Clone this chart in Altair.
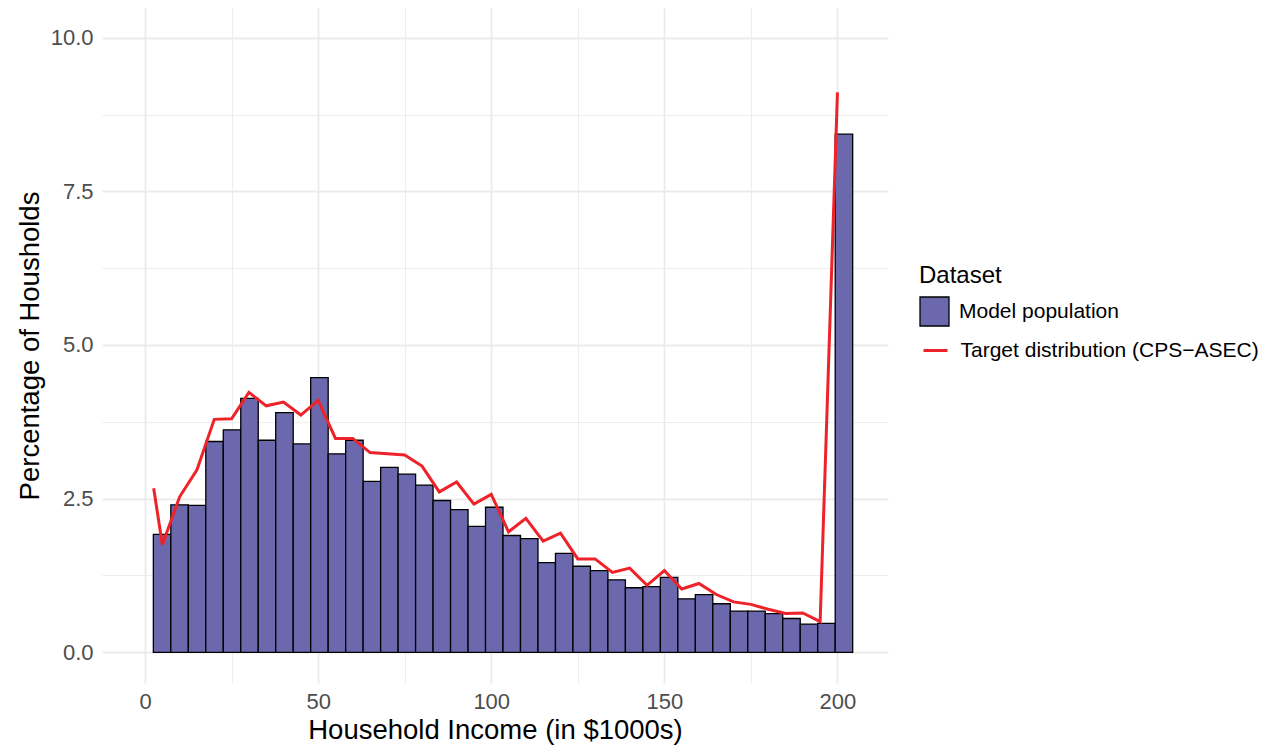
import altair as alt
import pandas as pd

# Histogram bins (in $1000s): left edges and right edges
bin_lo = [2.40, 7.45, 12.50, 17.55, 22.60, 27.65, 32.70, 37.75, 42.80, 47.85,
          52.90, 57.95, 63.00, 68.05, 73.10, 78.15, 83.20, 88.25, 93.30, 98.35,
          103.40, 108.45, 113.50, 118.55, 123.60, 128.65, 133.70, 138.75, 143.80, 148.85,
          153.90, 158.95, 164.00, 169.05, 174.10, 179.15, 184.20, 189.25, 194.30, 199.35]
bin_hi = [7.45, 12.50, 17.55, 22.60, 27.65, 32.70, 37.75, 42.80, 47.85, 52.90,
          57.95, 63.00, 68.05, 73.10, 78.15, 83.20, 88.25, 93.30, 98.35, 103.40,
          108.45, 113.50, 118.55, 123.60, 128.65, 133.70, 138.75, 143.80, 148.85, 153.90,
          158.95, 164.00, 169.05, 174.10, 179.15, 184.20, 189.25, 194.30, 199.35, 204.40]
model_pct = [1.92, 2.40, 2.39, 3.43, 3.62, 4.13, 3.45, 3.90, 3.39, 4.47,
             3.23, 3.45, 2.78, 3.01, 2.90, 2.72, 2.47, 2.32, 2.05, 2.36,
             1.90, 1.85, 1.46, 1.61, 1.40, 1.33, 1.18, 1.05, 1.07, 1.22,
             0.87, 0.94, 0.79, 0.67, 0.67, 0.63, 0.55, 0.46, 0.47, 8.43]

# Target distribution (CPS-ASEC)
target_income = [2.5, 5, 10, 15, 20, 25, 30, 35, 40, 45, 50, 55, 60, 65, 70, 75, 80,
                 85, 90, 95, 100, 105, 110, 115, 120, 125, 130, 135, 140, 145, 150,
                 155, 160, 165, 170, 175, 180, 185, 190, 195, 200]
target_pct = [2.67, 1.75, 2.53, 2.97, 3.79, 3.80, 4.23, 4.01, 4.07, 3.86, 4.10,
              3.48, 3.48, 3.25, 3.23, 3.21, 3.03, 2.61, 2.77, 2.41, 2.57,
              1.96, 2.18, 1.81, 1.94, 1.52, 1.52, 1.30, 1.37, 1.09, 1.33,
              1.03, 1.12, 0.94, 0.82, 0.78, 0.70, 0.63, 0.64, 0.50, 9.11]

x_ticks = [0, 25, 50, 75, 100, 125, 150, 175, 200]
y_ticks = [0, 1.25, 2.5, 3.75, 5, 6.25, 7.5, 8.75, 10]

model_label = "Model population"
target_label = "Target distribution (CPS\u2212ASEC)"

bars_df = pd.DataFrame({"lo": bin_lo, "hi": bin_hi, "pct": model_pct,
                        "base": [0.0] * len(bin_lo),
                        "series": [model_label] * len(bin_lo)})
line_df = pd.DataFrame({"income": target_income, "pct": target_pct,
                        "series2": [target_label] * len(target_income)})

FONT = "Liberation Sans"
GRID = "#EBEBEB"

x_scale = alt.Scale(domain=[-12.43, 214.6], nice=False, zero=False)
y_scale = alt.Scale(domain=[-0.4995, 10.483], nice=False, zero=False)

x_axis = alt.Axis(
    values=x_ticks,
    labelExpr="datum.value % 50 === 0 ? datum.label : ''",
    title="Household Income (in $1000s)",
    domain=False, ticks=False, tickSize=0,
    labelPadding=8, labelFontSize=22, labelColor="#4D4D4D", labelFont=FONT,
    labelFlush=False, labelOverlap=False,
    titleFontSize=27.5, titleFont=FONT, titleColor="black", titleFontWeight="normal",
    titleY=47, titleBaseline="middle",
    grid=True, gridColor=GRID,
    gridWidth={"condition": {"test": "datum.value % 50 === 0", "value": 1.8}, "value": 0.9},
)
y_axis = alt.Axis(
    values=y_ticks,
    labelExpr="datum.value % 2.5 === 0 ? format(datum.value, '.1f') : ''",
    title="Percentage of Housholds",
    domain=False, ticks=False, tickSize=0,
    labelPadding=9, labelFontSize=22, labelColor="#4D4D4D", labelFont=FONT,
    labelFlush=False, labelOverlap=False,
    titleFontSize=27.5, titleFont=FONT, titleColor="black", titleFontWeight="normal",
    titleX=-72, titleBaseline="middle",
    grid=True, gridColor=GRID,
    gridWidth={"condition": {"test": "datum.value % 2.5 === 0", "value": 1.8}, "value": 0.9},
)

bars = alt.Chart(bars_df).mark_rect(stroke="black", strokeWidth=1.3).encode(
    x=alt.X("lo:Q", scale=x_scale, axis=x_axis),
    x2="hi:Q",
    y=alt.Y("pct:Q", scale=y_scale, axis=y_axis),
    y2="base:Q",
    fill=alt.Fill("series:N",
                  scale=alt.Scale(domain=[model_label], range=["#6C68AD"]),
                  legend=alt.Legend(
                      title="Dataset", orient="none", legendX=817, legendY=256,
                      titleFontSize=24, titleFont=FONT, titleColor="black",
                      titleFontWeight="normal", titlePadding=8,
                      labelFontSize=21, labelFont=FONT, labelColor="black", labelOffset=9,
                      labelLimit=0,
                      symbolType="square", symbolSize=841, symbolStrokeColor="black",
                      symbolStrokeWidth=1.3, symbolOpacity=1, padding=0)),
)

line = alt.Chart(line_df).mark_line(strokeWidth=3).encode(
    x=alt.X("income:Q", scale=x_scale),
    y=alt.Y("pct:Q", scale=y_scale),
    stroke=alt.Stroke("series2:N",
                      scale=alt.Scale(domain=[target_label], range=["#EE2229"]),
                      legend=alt.Legend(
                          title=None, orient="none", legendX=820, legendY=329,
                          labelFontSize=21, labelFont=FONT, labelColor="black", labelOffset=11.5,
                          labelLimit=0,
                          symbolType="stroke", symbolSize=576, symbolStrokeWidth=3, padding=0)),
)

chart = alt.layer(bars, line).properties(
    width=786, height=675,
    autosize=alt.AutoSizeParams(type="none"),
    padding={"left": 94, "top": 0, "right": 372, "bottom": 62},
    background="white",
).configure_view(stroke=None)

chart.save("out.html", embed_options={"renderer": "svg", "actions": False})
